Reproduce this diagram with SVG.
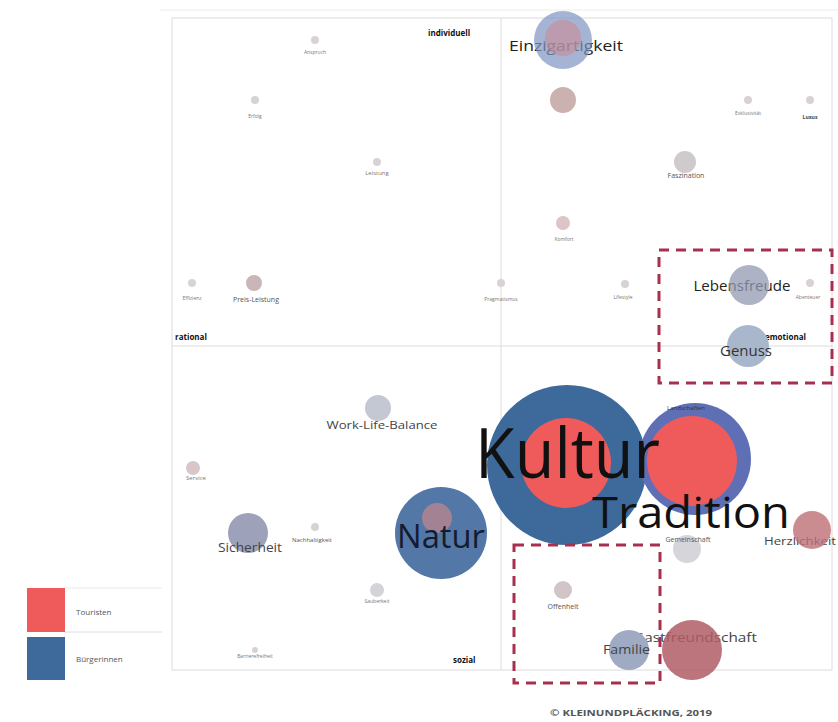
<svg xmlns="http://www.w3.org/2000/svg" width="838" height="722" viewBox="0 0 838 722">
<style>
text{font-family:"Open Sans","Liberation Sans",sans-serif;}
.tiny{font-size:5px;fill:#777;text-anchor:middle;}
.small{font-size:7px;fill:#555;text-anchor:middle;}
.mid{font-size:11px;fill:#444;}
.axis{font-size:8px;font-weight:bold;fill:#111;}
.dot{fill:#d9d2d4;}
.dash{fill:none;stroke:#a8304f;stroke-width:3;stroke-dasharray:10 7;}
.frame{fill:none;stroke:#dcdcdc;stroke-width:1;}
</style>
<rect width="838" height="722" fill="#fff"/>
<g id="frame">
<line x1="160" y1="10" x2="838" y2="10" stroke="#ececec"/>
<rect class="frame" x="172" y="18" width="660" height="652"/>
<line x1="501" y1="18" x2="501" y2="670" stroke="#dcdcdc"/>
<line x1="172" y1="346" x2="832" y2="346" stroke="#dcdcdc"/>
<text class="axis" x="428" y="36">individuell</text>
<text class="axis" x="175" y="340">rational</text>
<text class="axis" x="765" y="340">emotional</text>
<text class="axis" x="453" y="663">sozial</text>
</g>
<g id="n-anspruch"><circle class="dot" cx="315" cy="40" r="4"/><text class="tiny" x="315" y="54">Anspruch</text></g>
<g id="n-erfolg"><circle class="dot" cx="255" cy="100" r="4"/><text class="tiny" x="255" y="118">Erfolg</text></g>
<g id="n-leistung"><circle class="dot" cx="377" cy="162" r="4"/><text class="tiny" x="377" y="175" style="font-size:6px">Leistung</text></g>
<g id="n-effizienz"><circle class="dot" cx="192" cy="283" r="4"/><text class="tiny" x="192" y="300">Effizienz</text></g>
<g id="n-preis"><circle cx="254" cy="283" r="8" fill="#c8b6b9"/><text class="small" x="256" y="302">Preis-Leistung</text></g>
<g id="n-pragmatismus"><circle class="dot" cx="501" cy="283" r="4"/><text class="tiny" x="501" y="301">Pragmatismus</text></g>
<g id="n-lifestyle"><circle class="dot" cx="625" cy="284" r="4"/><text class="tiny" x="623" y="299">Lifestyle</text></g>
<g id="n-abenteuer"><circle class="dot" cx="810" cy="283" r="4"/><text class="tiny" x="808" y="299">Abenteuer</text></g>
<g id="n-exklusiv"><circle class="dot" cx="748" cy="100" r="4"/><text class="tiny" x="748" y="115">Exklusivität</text></g>
<g id="n-luxus"><circle class="dot" cx="810" cy="100" r="4"/><text class="tiny" x="810" y="119" style="fill:#444;font-weight:bold">Luxus</text></g>
<g id="n-unbenannt"><circle cx="563" cy="100" r="13" fill="#cbb2b0"/></g>
<g id="n-faszination"><circle cx="685" cy="162" r="11" fill="#cfcacc"/><text class="small" x="686" y="178">Faszination</text></g>
<g id="n-komfort"><circle cx="563" cy="223" r="7" fill="#dcc4c7"/><text class="tiny" x="564" y="241">Komfort</text></g>
<g id="n-einzigartigkeit">
<text x="566" y="51" style="font-size:15px;fill:#222;text-anchor:middle" textLength="114" lengthAdjust="spacingAndGlyphs">Einzigartigkeit</text>
<circle cx="563" cy="40" r="29" fill="#7f93c2" opacity="0.7"/>
<circle cx="563" cy="38" r="18" fill="#c98a92" opacity="0.6"/>
</g>
<g id="n-lebensfreude">
<text x="742" y="291" style="font-size:14px;fill:#222;text-anchor:middle" textLength="97" lengthAdjust="spacingAndGlyphs">Lebensfreude</text>
<circle cx="749" cy="285" r="20" fill="#9299b0" opacity="0.75"/>
</g>
<g id="n-genuss">
<circle cx="748" cy="346" r="21" fill="#a9b7cd"/>
<text x="746" y="356" style="font-size:14px;fill:#333;text-anchor:middle" textLength="52" lengthAdjust="spacingAndGlyphs">Genuss</text>
</g>
<g id="n-wlb"><circle cx="378" cy="408" r="13" fill="#c4c8d3"/><text class="mid" x="382" y="429" text-anchor="middle" textLength="111" lengthAdjust="spacingAndGlyphs">Work-Life-Balance</text></g>
<g id="n-service"><circle cx="193" cy="468" r="7" fill="#d8c7ca"/><text class="tiny" x="196" y="480" style="font-size:6px">Service</text></g>
<g id="n-sicherheit"><circle cx="248" cy="533" r="20" fill="#9da2ba"/><text class="mid" x="250" y="552" text-anchor="middle" style="font-size:12px" textLength="64" lengthAdjust="spacingAndGlyphs">Sicherheit</text></g>
<g id="n-nachhaltigkeit"><circle class="dot" cx="315" cy="527" r="4"/><text class="tiny" x="312" y="542" style="font-size:6px;fill:#555">Nachhaltigkeit</text></g>
<g id="n-sauberkeit"><circle cx="377" cy="590" r="7" fill="#d3d3d8"/><text class="tiny" x="377" y="603">Sauberkeit</text></g>
<g id="n-barriere"><circle class="dot" cx="255" cy="650" r="3"/><text class="tiny" x="255" y="658">Barrierefreiheit</text></g>
<g id="n-natur">
<circle cx="441" cy="533" r="46" fill="#5377a7"/>
<circle cx="437" cy="518" r="15" fill="#b8848f" opacity="0.8"/>
<text x="441" y="548" style="font-size:32px;fill:#141c30;text-anchor:middle" textLength="88" lengthAdjust="spacingAndGlyphs">Natur</text>
</g>
<g id="n-kultur">
<circle cx="567" cy="465" r="80" fill="#3e6a9b"/>
<circle cx="566" cy="463" r="45" fill="#ef5b5b"/>
</g>
<g id="n-tradition">
<circle cx="695" cy="459" r="56" fill="#5f6fb6"/>
<circle cx="692" cy="461" r="45" fill="#ef5b5b"/>
<text class="tiny" x="686" y="410" style="font-size:6px;fill:#333">Landschaften</text>
</g>
<text id="t-kultur" x="475" y="478" style="font-size:70px;fill:#111" textLength="185" lengthAdjust="spacingAndGlyphs">Kultur</text>
<text id="t-tradition" x="592" y="528" style="font-size:44px;fill:#111" textLength="198" lengthAdjust="spacingAndGlyphs">Tradition</text>
<g id="n-herzlichkeit"><text class="mid" x="764" y="545" textLength="72" lengthAdjust="spacingAndGlyphs">Herzlichkeit</text><circle cx="812" cy="530" r="19" fill="#bd6f76" opacity="0.8"/></g>
<g id="n-gemeinschaft"><circle cx="687" cy="549" r="14" fill="#d6d6da"/><text class="small" x="688" y="542">Gemeinschaft</text></g>
<g id="n-offenheit"><circle cx="563" cy="590" r="9" fill="#d2c5c7"/><text class="small" x="563" y="609">Offenheit</text></g>
<g id="n-gastfreundschaft"><text class="mid" x="633" y="642" style="font-size:13px" textLength="124" lengthAdjust="spacingAndGlyphs">Gastfreundschaft</text><circle cx="692" cy="650" r="30" fill="#b05d66" opacity="0.85"/></g>
<g id="n-familie"><circle cx="629" cy="650" r="20" fill="#9eabc3"/><text class="mid" x="603" y="654" style="font-size:12px" textLength="47" lengthAdjust="spacingAndGlyphs">Familie</text></g>
<g id="highlights">
<rect class="dash" x="659" y="250" width="173" height="133"/>
<rect class="dash" x="514" y="545" width="146" height="138"/>
</g>
<g id="legend">
<line x1="65" y1="588" x2="162" y2="588" stroke="#eaeaea"/>
<line x1="65" y1="632" x2="162" y2="632" stroke="#dedede"/>
<rect x="27" y="588" width="38" height="44" fill="#ef5b5b"/>
<rect x="27" y="637" width="38" height="43" fill="#3e6a9b"/>
<text x="76" y="615" style="font-size:8px;fill:#555">Touristen</text>
<text x="76" y="662" style="font-size:8px;fill:#555">Bürgerinnen</text>
</g>
<text id="copyright" x="550" y="716" style="font-size:8px;font-weight:bold;fill:#555" textLength="162" lengthAdjust="spacingAndGlyphs">© KLEINUNDPLÄCKING, 2019</text>
</svg>
